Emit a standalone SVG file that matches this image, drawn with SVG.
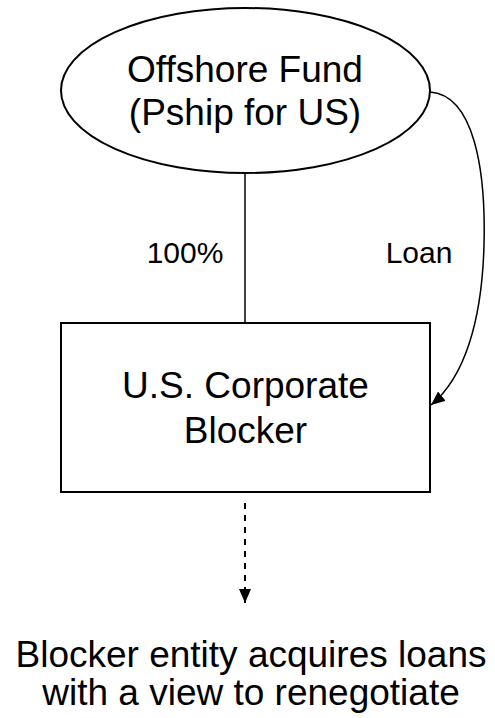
<svg xmlns="http://www.w3.org/2000/svg" width="495" height="718" viewBox="0 0 495 718">
<style>
  .shape { fill: #ffffff; stroke: #000000; stroke-width: 2; }
  .conn { fill: none; stroke: #000000; stroke-width: 1.5; }
  .dash { fill: none; stroke: #000000; stroke-width: 2; stroke-dasharray: 6 6; }
  .big { font-family: "Liberation Sans", Arial, sans-serif; font-size: 37px; fill: #000000; text-anchor: middle; }
  .lbl { font-family: "Liberation Sans", Arial, sans-serif; font-size: 30px; fill: #000000; text-anchor: middle; }
</style>
<defs>
  <marker id="arrow" viewBox="0 0 14 12" refX="14" refY="6" markerWidth="14" markerHeight="12" markerUnits="userSpaceOnUse" orient="auto">
    <path d="M0,0 L14,6 L0,12 Z" fill="#000000"/>
  </marker>
</defs>
<rect width="495" height="718" fill="#ffffff"/>
<g id="connectors">
  <line class="conn" x1="245" y1="173" x2="245" y2="323"/>
  <path class="conn" d="M430,92 C474,95 486,170 484,245 C482,322 464,378 431,405" marker-end="url(#arrow)"/>
  <line class="dash" x1="245" y1="503" x2="245" y2="603" marker-end="url(#arrow)"/>
  <text class="lbl" x="185" y="263">100%</text>
  <text class="lbl" x="419" y="263">Loan</text>
</g>
<g id="offshore-fund">
  <ellipse class="shape" cx="245.5" cy="90.5" rx="184.5" ry="82.5"/>
  <text class="big" x="245" y="82">Offshore Fund</text>
  <text class="big" x="245" y="125">(Pship for US)</text>
</g>
<g id="us-blocker">
  <rect class="shape" x="61" y="323" width="369" height="169"/>
  <text class="big" x="245.5" y="398">U.S. Corporate</text>
  <text class="big" x="245.5" y="443">Blocker</text>
</g>
<g id="outcome">
  <text class="big" x="251" y="667">Blocker entity acquires loans</text>
  <text class="big" x="251" y="705">with a view to renegotiate</text>
</g>
</svg>
